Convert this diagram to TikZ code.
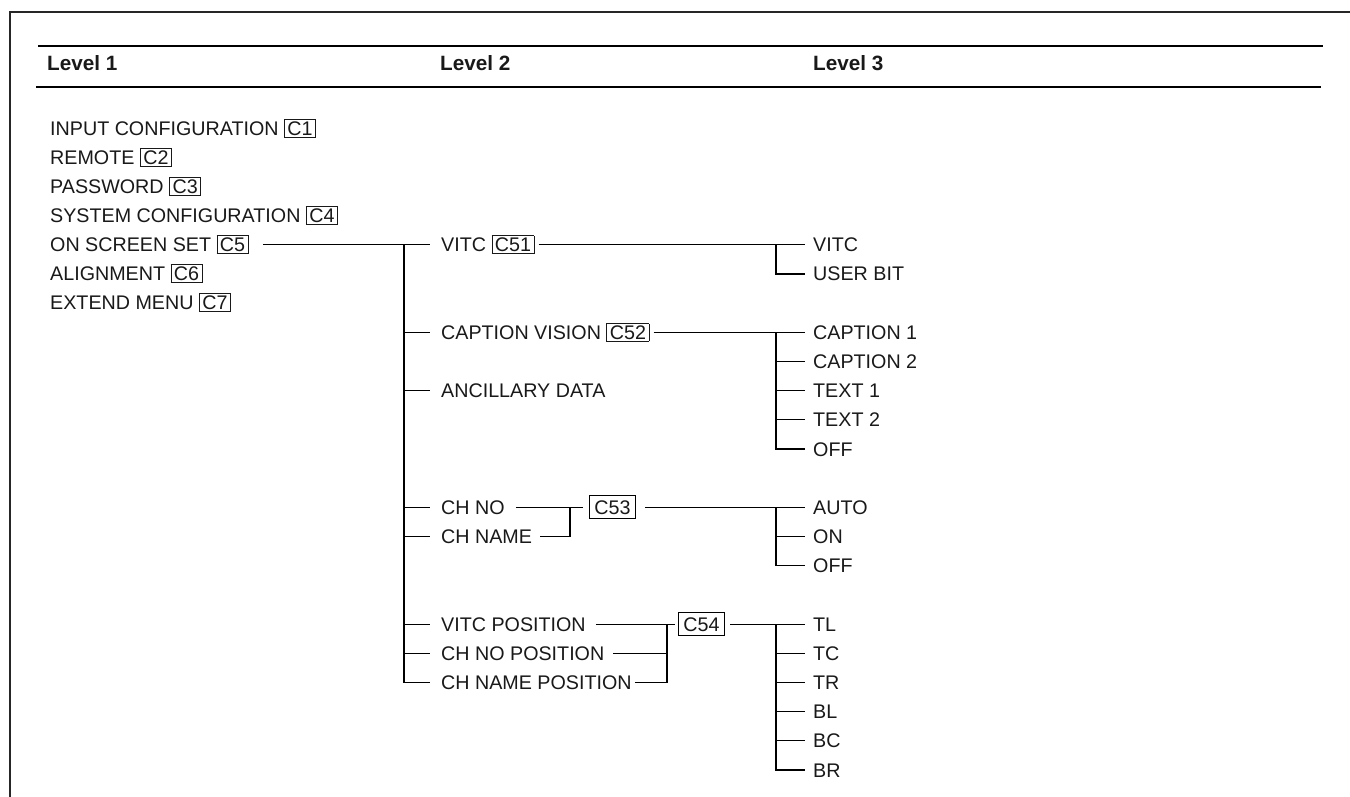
\documentclass[tikz,border=0pt]{standalone}
\usepackage{fontspec}
\setmainfont{Liberation Sans}
\usetikzlibrary{positioning}

\newcommand{\menucode}[1]{{\setlength{\fboxsep}{1.5pt}\setlength{\fboxrule}{0.9pt}\fbox{\kern1pt#1\kern1pt}}}

\begin{document}
\begin{tikzpicture}[x=1pt, y=-1pt,
    item/.style={anchor=west, inner sep=0pt, text height=14.1pt, text depth=0pt, text=black!90, font=\fontsize{19.7}{22}\selectfont},
    head/.style={anchor=west, inner sep=0pt, text height=14.8pt, text depth=0pt, text=black!90, font=\fontsize{20.7}{24}\selectfont\bfseries},
    codebox/.style={item, draw, line width=0.9pt, inner xsep=5pt, inner ysep=4.5pt},
    link/.style={line width=1.2pt},
    frame/.style={line width=1.8pt, black!85}
]
\useasboundingbox (0,0) rectangle (1350,797);

% frame and header
\draw[frame] (10,797) -- (10,12) -- (1350,12);
\draw[line width=1.2pt] (38,46) -- (1323,46);
\draw[line width=2.6pt] (36,87) -- (1321,87);
\node[head] (lvlone) at (47,63) {Level 1};
\node[head] (lvltwo) at (440,63) {Level 2};
\node[head] (lvlthree) at (813,63) {Level 3};

% level 1
\node[item] (inputcfg) at (50,128) {INPUT CONFIGURATION \menucode{C1}};
\node[item] (remote) at (50,157) {REMOTE \menucode{C2}};
\node[item] (password) at (50,186) {PASSWORD \menucode{C3}};
\node[item] (syscfg) at (50,215.2) {SYSTEM CONFIGURATION \menucode{C4}};
\node[item] (onscreen) at (50,244.5) {ON SCREEN SET \menucode{C5}};
\node[item] (alignment) at (50,273.3) {ALIGNMENT \menucode{C6}};
\node[item] (extmenu) at (50,302) {EXTEND MENU \menucode{C7}};

% level 2
\node[item] (vitc) at (441,244.5) {VITC \menucode{C51}};
\node[item] (capvision) at (441,332.3) {CAPTION VISION \menucode{C52}};
\node[item] (ancillary) at (441,390.6) {ANCILLARY DATA};
\node[item] (chno) at (441,507.3) {CH NO};
\node[item] (chname) at (441,536.5) {CH NAME};
\node[item] (vitcpos) at (441,624.1) {VITC POSITION};
\node[item] (chnopos) at (441,653.2) {CH NO POSITION};
\node[item] (chnamepos) at (441,682.4) {CH NAME POSITION};
\node[codebox] (c53) at (589,507.3) {C53};
\node[codebox] (c54) at (678,624.1) {C54};
\coordinate (j53) at ([xshift=-19pt]c53.west);
\coordinate (j54) at ([xshift=-11pt]c54.west);

% level 3
\node[item] (vitcthree) at (813,244.5) {VITC};
\node[item] (userbit) at (813,273.9) {USER BIT};
\node[item] (caption1) at (813,332.3) {CAPTION 1};
\node[item] (caption2) at (813,361.4) {CAPTION 2};
\node[item] (text1) at (813,390.6) {TEXT 1};
\node[item] (text2) at (813,419.8) {TEXT 2};
\node[item] (cvoff) at (813,449) {OFF};
\node[item] (chauto) at (813,507.3) {AUTO};
\node[item] (chon) at (813,536.5) {ON};
\node[item] (choff) at (813,565.7) {OFF};
\node[item] (tl) at (813,624.1) {TL};
\node[item] (tc) at (813,653.2) {TC};
\node[item] (tr) at (813,682.4) {TR};
\node[item] (bl) at (813,711.6) {BL};
\node[item] (bc) at (813,740.8) {BC};
\node[item] (br) at (813,770) {BR};

% level 1 -> level 2
\draw[link] ([xshift=14pt]onscreen.east) -- ([xshift=-11pt]vitc.west);
\draw[link] ([xshift=-37pt]vitc.west) |- ([xshift=-11pt]chnamepos.west);
\foreach \n in {capvision, ancillary, chno, chname, vitcpos, chnopos}
  \draw[link] ([xshift=-37pt]\n.west) -- ([xshift=-11pt]\n.west);

% C51
\draw[link] ([xshift=4pt]vitc.east) -- ([xshift=-8pt]vitcthree.west);
\draw[link] ([xshift=-37pt]vitcthree.west) |- ([xshift=-8pt]userbit.west);

% C52
\draw[link] ([xshift=4pt]capvision.east) -- ([xshift=-8pt]caption1.west);
\draw[link] ([xshift=-37pt]caption1.west) |- ([xshift=-8pt]cvoff.west);
\foreach \n in {caption2, text1, text2}
  \draw[link] ([xshift=-37pt]\n.west) -- ([xshift=-8pt]\n.west);

% C53
\draw[link] ([xshift=11pt]chno.east) -- ([xshift=-6pt]c53.west);
\draw[link] ([xshift=8pt]chname.east) -| (j53);
\draw[link] ([xshift=9pt]c53.east) -- ([xshift=-8pt]chauto.west);
\draw[link] ([xshift=-37pt]chauto.west) |- ([xshift=-8pt]choff.west);
\draw[link] ([xshift=-37pt]chon.west) -- ([xshift=-8pt]chon.west);

% C54
\draw[link] ([xshift=10pt]vitcpos.east) -- ([xshift=-3pt]c54.west);
\draw[link] ([xshift=9pt]chnopos.east) -- (chnopos.east -| j54);
\draw[link] ([xshift=3pt]chnamepos.east) -| (j54);
\draw[link] ([xshift=5pt]c54.east) -- ([xshift=-8pt]tl.west);
\draw[link] ([xshift=-37pt]tl.west) |- ([xshift=-8pt]br.west);
\foreach \n in {tc, tr, bl, bc}
  \draw[link] ([xshift=-37pt]\n.west) -- ([xshift=-8pt]\n.west);

\end{tikzpicture}
\end{document}
